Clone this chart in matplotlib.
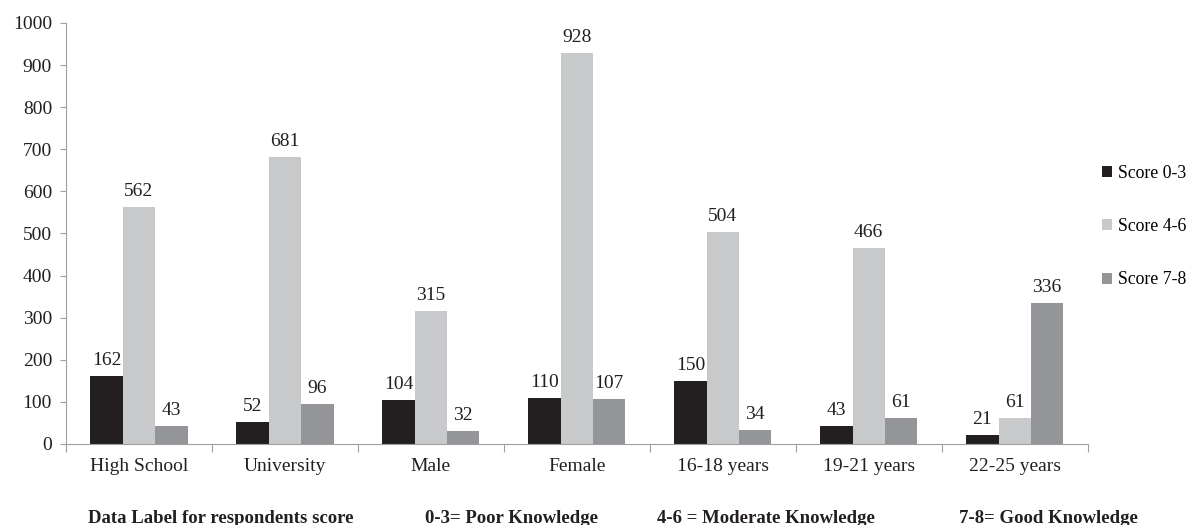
import matplotlib.pyplot as plt
import numpy as np

# categories and score counts
categories = ['High School', 'University', 'Male', 'Female',
              '16-18 years', '19-21 years', '22-25 years']
score_0_3 = [162, 52, 104, 110, 150, 43, 21]
score_4_6 = [562, 681, 315, 928, 504, 466, 61]
score_7_8 = [43, 96, 32, 107, 34, 61, 336]

series_names = ['Score 0-3', 'Score 4-6', 'Score 7-8']
colors = ['#231f20', '#c8c9cb', '#939598']

footnotes = ['Data Label for respondents score', '0-3= Poor Knowledge',
             '4-6 = Moderate Knowledge', '7-8= Good Knowledge']

plt.rcParams['font.family'] = ['Liberation Serif', 'DejaVu Serif']

fig = plt.figure(figsize=(11.95, 5.25), dpi=100)
ax = fig.add_axes([0.0552, 0.1543, 0.855, 0.802])

x = np.arange(len(categories)) + 0.5
width = 0.222
for k, (vals, name, col) in enumerate(zip([score_0_3, score_4_6, score_7_8], series_names, colors)):
    bars = ax.bar(x + (k - 1) * width, vals, width, color=col, label=name)
    for b, v in zip(bars, vals):
        ax.annotate(str(v), (b.get_x() + b.get_width() / 2, v), xytext=(0, 5),
                    textcoords='offset points', ha='center', va='bottom',
                    fontsize=14, color='#231f20')

ax.set_xlim(0, len(categories))
ax.set_ylim(0, 1000)
ax.set_yticks(range(0, 1001, 100))
ax.tick_params(axis='y', length=4, color='#a0a0a0', labelsize=14, labelcolor='#231f20', pad=6)

# x ticks at category boundaries, labels at centers
ax.set_xticks(np.arange(len(categories) + 1))
ax.set_xticklabels([])
ax.set_xticks(x, minor=True)
ax.set_xticklabels(categories, minor=True)
ax.tick_params(axis='x', which='major', length=6, color='#a0a0a0')
ax.tick_params(axis='x', which='minor', length=0, labelsize=14, labelcolor='#231f20', pad=10)

for s in ['top', 'right']:
    ax.spines[s].set_visible(False)
for s in ['left', 'bottom']:
    ax.spines[s].set_color('#a0a0a0')

fig.legend(loc='upper left', bbox_to_anchor=(0.916, 0.70), frameon=False,
           fontsize=12.8, handlelength=0.6, handleheight=0.6, handletextpad=0.3,
           labelspacing=2.05, borderaxespad=0)

xs = [88, 425, 657, 959]
for xp, t in zip(xs, footnotes):
    fig.text(xp / 1195, -0.004, t, ha='left', va='bottom', fontsize=13.5,
             fontweight='bold', color='#231f20')

plt.savefig('out.png', dpi=100)
